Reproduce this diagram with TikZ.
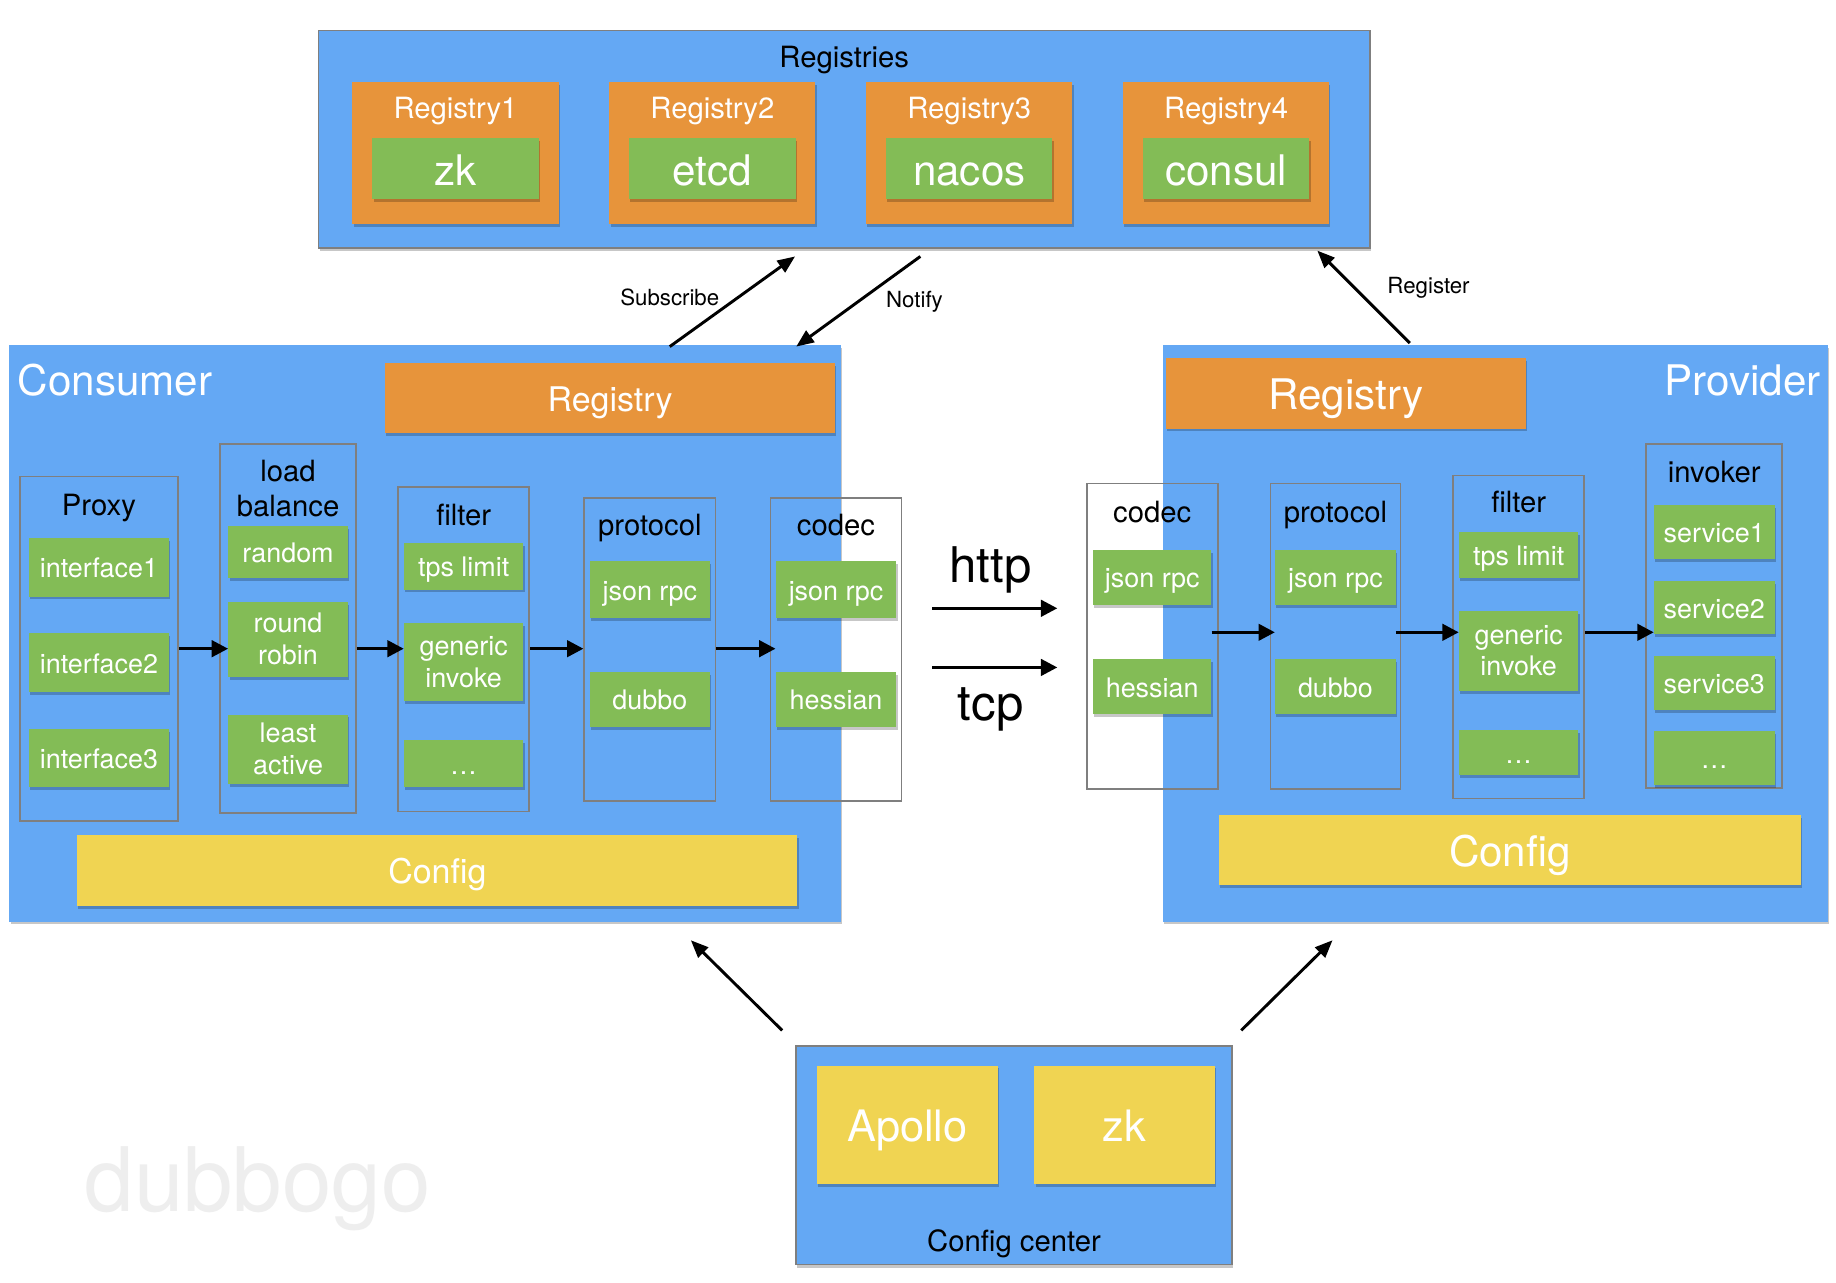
\documentclass[tikz,border=0pt]{standalone}
\usepackage{fontspec}
\setmainfont{TeX Gyre Heros}
\usetikzlibrary{arrows.meta, positioning, calc, shadows}
\definecolor{areablue}{HTML}{64A8F4}
\definecolor{huborange}{HTML}{E7943B}
\definecolor{leafgreen}{HTML}{83BC56}
\definecolor{cfgyellow}{HTML}{F0D452}
\definecolor{framegray}{HTML}{7F7F7F}
\definecolor{markgray}{HTML}{EEEEEE}
\newcommand{\fsz}[2]{\fontsize{#1}{#2}\selectfont}
\tikzset{
  shd/.style={drop shadow={shadow xshift=1pt, shadow yshift=-2.5pt, fill=black, opacity=0.22}},
  area/.style={rectangle, fill=areablue, inner sep=0pt, shd},
  hub/.style={rectangle, fill=huborange, inner sep=0pt, text=white, shd},
  regbox/.style={hub, minimum width=176pt, minimum height=121pt},
  leaf/.style={rectangle, fill=leafgreen, inner sep=0pt, text=white, align=center,
               font=\fsz{23pt}{27pt}, text height=18pt, text depth=0pt,
               minimum width=102pt, shd},
  bigleaf/.style={leaf, font=\fsz{36pt}{40pt}, text height=28pt, text depth=0pt,
                  minimum width=142pt, minimum height=52pt},
  cfg/.style={rectangle, fill=cfgyellow, inner sep=0pt, text=white, shd},
  col/.style={rectangle, draw=framegray, line width=1.5pt, inner sep=0pt},
  ttl/.style={inner sep=0pt, align=center, font=\fsz{25pt}{30pt},
              text height=19.5pt, text depth=0pt},
  ml/.style={text height={}, text depth={}},
  f29/.style={font=\fsz{29pt}{33pt}, text height=22.5pt, text depth=0pt},
  f36/.style={font=\fsz{36pt}{40pt}, text height=28pt, text depth=0pt},
  f37/.style={font=\fsz{37pt}{41pt}, text height=29pt, text depth=0pt},
  fl/.style={-{Triangle[length=14pt, width=14pt]}, line width=2.8pt},
  fl2/.style={-{Triangle[length=15pt, width=12pt]}, line width=2.5pt},
  lbl/.style={inner sep=0pt, font=\fsz{19pt}{22pt}},
  wire/.style={inner sep=0pt, font=\fsz{42pt}{46pt}, text height=32.5pt, text depth=0pt},
  wmark/.style={inner sep=0pt, text=markgray, font=\fsz{76pt}{80pt}}
}

\begin{document}
\begin{tikzpicture}[x=1pt, y=-1pt]
\fill[white] (0,0) rectangle (1568,1095);
\useasboundingbox (0,0) rectangle (1568,1095);

\node[wmark, anchor=base west] (wm) at (72,1035) {dubbogo};

% registries
\node[area, draw=framegray, line width=1.5pt, minimum width=898pt, minimum height=186pt] (reg) at (721,119) {};
\node[ttl] (regT) at ($(reg.north)+(0,23)$) {Registries};
\node[regbox] (r1) at (389,130.5) {};
\node[regbox, right=43pt of r1] (r2) {};
\node[regbox, right=43pt of r2] (r3) {};
\node[regbox, right=43pt of r3] (r4) {};
\node[ttl, text=white] (r1T) at ($(r1.north)+(0,22)$) {Registry1};
\node[ttl, text=white] (r2T) at ($(r2.north)+(0,22)$) {Registry2};
\node[ttl, text=white] (r3T) at ($(r3.north)+(0,22)$) {Registry3};
\node[ttl, text=white] (r4T) at ($(r4.north)+(0,22)$) {Registry4};
\node[bigleaf, above=21pt of r1.south] (zk) {zk};
\node[bigleaf, above=21pt of r2.south] (etcd) {etcd};
\node[bigleaf, above=21pt of r3.south] (nacos) {nacos};
\node[bigleaf, above=21pt of r4.south] (consul) {consul};

% consumer
\node[area, minimum width=710pt, minimum height=492pt] (cons) at (363,541) {};
\node[inner sep=0pt, text=white, f36, anchor=west] (consT) at (15,323.5) {Consumer};
\node[hub, f29, minimum width=384pt, minimum height=60pt] (creg) at (521,340) {Registry};
\node[cfg, f29, minimum width=615pt, minimum height=61pt] (ccfg) at (373.5,743.5) {Config};

\node[col, minimum width=135pt, minimum height=294pt] (proxy) at (84.5,554) {};
\node[ttl] at ($(proxy.north)+(0,24)$) {Proxy};
\node[leaf, minimum width=119pt, minimum height=50pt, below=53pt of proxy.north] (if1) {interface1};
\node[leaf, minimum width=119pt, minimum height=50pt, below=31pt of if1] (if2) {interface2};
\node[leaf, minimum width=119pt, minimum height=50pt, below=31pt of if2] (if3) {interface3};

\node[col, minimum width=116pt, minimum height=315pt] (lb) at (246,536.5) {};
\node[ttl, ml] at ($(lb.north)+(0,39)$) {load\\balance};
\node[leaf, minimum height=44pt, below=71pt of lb.north] (rnd) {random};
\node[leaf, ml, minimum height=64pt, below=20pt of rnd] (rr) {round\\robin};
\node[leaf, ml, minimum height=59pt, below=32pt of rr] (la) {least\\active};

\node[col, minimum width=112pt, minimum height=277pt] (cflt) at (396,554.5) {};
\node[ttl] at ($(cflt.north)+(0,24)$) {filter};
\node[leaf, minimum height=40pt, below=48pt of cflt.north] (ctps) {tps limit};
\node[leaf, ml, minimum height=67pt, below=28pt of ctps] (cgi) {generic\\invoke};
\node[leaf, minimum height=40pt, below=33pt of cgi] (cdots) {\dots};

\node[col, minimum width=112pt, minimum height=259pt] (cproto) at (555,554.5) {};
\node[ttl] at ($(cproto.north)+(0,23)$) {protocol};
\node[leaf, minimum width=103pt, minimum height=48pt, below=55pt of cproto.north] (cjson1) {json rpc};
\node[leaf, minimum height=47pt, below=46pt of cjson1] (cdubbo) {dubbo};

\node[col, minimum width=112pt, minimum height=259pt] (ccodec) at (714,554.5) {};
\node[ttl] at ($(ccodec.north)+(0,23)$) {codec};
\node[leaf, minimum width=103pt, minimum height=48pt, below=55pt of ccodec.north] (cjson2) {json rpc};
\node[leaf, minimum width=103pt, minimum height=47pt, below=46pt of cjson2] (chess) {hessian};

\coordinate (crow) at (0,554);
\draw[fl] (proxy.east |- crow) -- (rr.west |- crow);
\draw[fl] (lb.east |- crow) -- (cgi.west |- crow);
\draw[fl] (cflt.east |- crow) -- (cproto.west |- crow);
\draw[fl] (cproto.east |- crow) -- (cjson2.west |- crow);

% wire
\coordinate (h0) at (796,519.5);
\coordinate (h1) at (903,519.5);
\coordinate (t0) at (796,570);
\coordinate (t1) at (903,570);
\draw[fl] (h0) -- (h1);
\draw[fl] (t0) -- (t1);
\node[wire] (http) at (846,481) {http};
\node[wire] (tcp) at (846,599) {tcp};

% provider
\node[area, minimum width=568pt, minimum height=492pt] (prov) at (1277,541) {};
\node[inner sep=0pt, text=white, f36, anchor=east] (provT) at (1555,323.5) {Provider};
\node[hub, f36, minimum width=307pt, minimum height=60pt] (preg) at (1149.5,336) {Registry};
\node[cfg, f36, minimum width=497pt, minimum height=60pt] (pcfg) at (1289.5,726) {Config};

\node[col, minimum width=112pt, minimum height=261pt] (pcodec) at (984,543.5) {};
\node[ttl] at ($(pcodec.north)+(0,24)$) {codec};
\node[leaf, minimum width=101pt, minimum height=47pt, below=57pt of pcodec.north] (pjson1) {json rpc};
\node[leaf, minimum width=101pt, minimum height=47pt, below=46pt of pjson1] (phess) {hessian};

\node[col, minimum width=111pt, minimum height=261pt] (pproto) at (1140.5,543.5) {};
\node[ttl] at ($(pproto.north)+(0,24)$) {protocol};
\node[leaf, minimum width=103pt, minimum height=47pt, below=57pt of pproto.north] (pjson2) {json rpc};
\node[leaf, minimum width=103pt, minimum height=47pt, below=46pt of pjson2] (pdubbo) {dubbo};

\node[col, minimum width=112pt, minimum height=276pt] (pflt) at (1297,544) {};
\node[ttl] at ($(pflt.north)+(0,23)$) {filter};
\node[leaf, minimum height=39pt, below=49pt of pflt.north] (ptps) {tps limit};
\node[leaf, ml, minimum height=68pt, below=28pt of ptps] (pgi) {generic\\invoke};
\node[leaf, minimum height=39pt, below=33pt of pgi] (pdots) {\dots};

\node[col, minimum width=116pt, minimum height=294pt] (inv) at (1464,526) {};
\node[ttl] at ($(inv.north)+(0,24)$) {invoker};
\node[leaf, minimum width=103pt, minimum height=46pt, below=53pt of inv.north] (s1) {service1};
\node[leaf, minimum width=103pt, minimum height=46pt, below=18pt of s1] (s2) {service2};
\node[leaf, minimum width=103pt, minimum height=46pt, below=18pt of s2] (s3) {service3};
\node[leaf, minimum width=103pt, minimum height=46pt, below=18pt of s3] (sdots) {\dots};

\coordinate (prow) at (0,540);
\draw[fl] (pjson1.east |- prow) -- (pjson2.west |- prow);
\draw[fl] (pjson2.east |- prow) -- (pgi.west |- prow);
\draw[fl] (pflt.east |- prow) -- (s2.west |- prow);

% subscribe / notify / register
\coordinate (sub0) at (572,296);
\coordinate (sub1) at (679,219);
\coordinate (ntf0) at (786,219);
\coordinate (ntf1) at (680,296);
\coordinate (rgs0) at (1204,293);
\coordinate (rgs1) at (1125,214);
\draw[fl2] (sub0) -- (sub1);
\draw[fl2] (ntf0) -- (ntf1);
\draw[fl2] (rgs0) -- (rgs1);
\node[lbl] (subL) at (572,254) {Subscribe};
\node[lbl] (ntfL) at (781,258) {Notify};
\node[lbl] (rgsL) at (1220,246) {Register};

% config center
\node[area, draw=framegray, line width=1.5pt, minimum width=372pt, minimum height=187pt] (cc) at (866,986.5) {};
\node[cfg, f37, minimum width=154pt, minimum height=101pt] (apollo) at (775,960.5) {Apollo};
\node[cfg, f37, minimum width=154pt, minimum height=101pt, right=31pt of apollo] (cczk) {zk};
\node[ttl] (ccT) at ($(cc.south)+(0,-22)$) {Config center};

\coordinate (cl0) at (668,880);
\coordinate (cl1) at (590,803);
\coordinate (cr0) at (1060,880);
\coordinate (cr1) at (1138,803);
\draw[fl2] (cl0) -- (cl1);
\draw[fl2] (cr0) -- (cr1);
\end{tikzpicture}
\end{document}
